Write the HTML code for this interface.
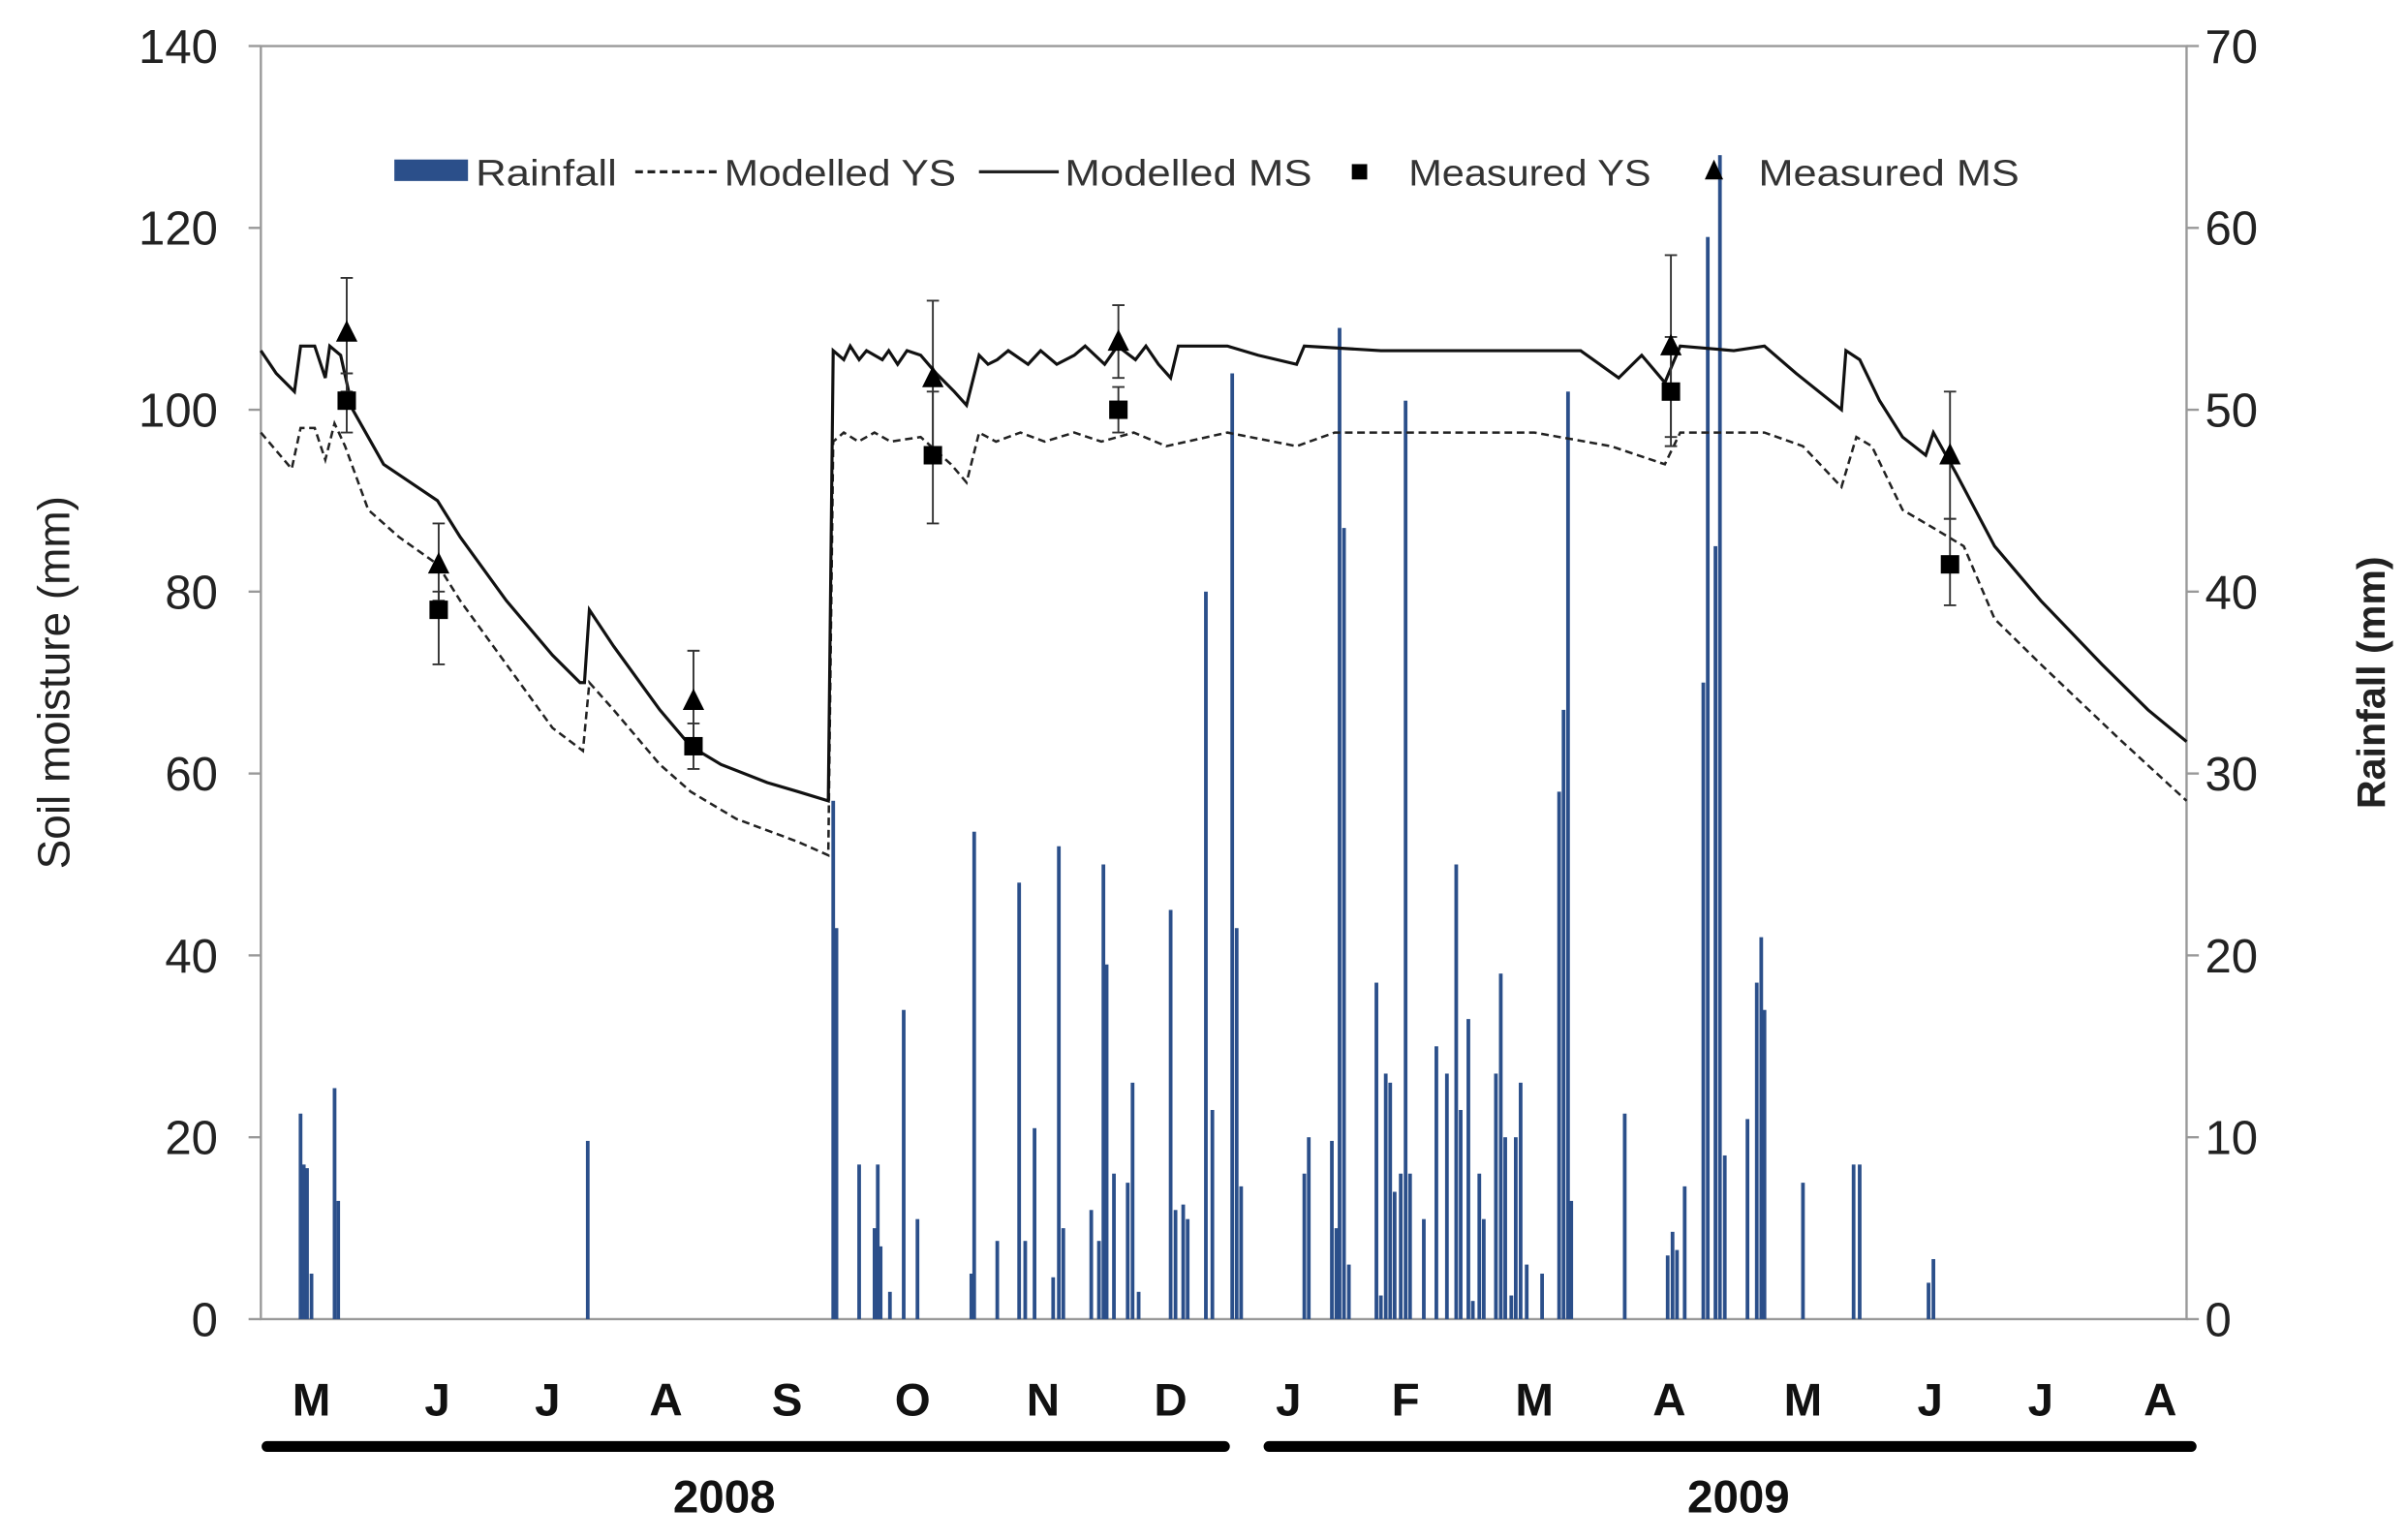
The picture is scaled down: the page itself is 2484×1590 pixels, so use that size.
<!DOCTYPE html>
<html><head><meta charset="utf-8"><style>
html,body{margin:0;padding:0;background:#fff;}
svg{display:block;font-family:"Liberation Sans",sans-serif;}
</style></head><body>
<svg id="chart" width="2484" height="1590" viewBox="0 0 1568 1004" preserveAspectRatio="none" xmlns="http://www.w3.org/2000/svg">
<g id="axes"></g>
<g id="bars"></g>
<g id="lines"></g>
<g id="points"></g>
<g id="legend">
  <rect x="257" y="104" width="48" height="14" fill="#2b4f8a"/>
  <text x="310" y="121" font-size="24" fill="#333" textLength="92" lengthAdjust="spacingAndGlyphs">Rainfall</text>
  <line x1="414" y1="112" x2="468" y2="112" stroke="#222" stroke-width="2" stroke-dasharray="5,3"/>
  <text x="472" y="121" font-size="24" fill="#333" textLength="151" lengthAdjust="spacingAndGlyphs">Modelled YS</text>
  <line x1="638" y1="112" x2="690" y2="112" stroke="#222" stroke-width="2"/>
  <text x="694" y="121" font-size="24" fill="#333" textLength="161" lengthAdjust="spacingAndGlyphs">Modelled MS</text>
  <rect x="881" y="107" width="10" height="10" fill="#000"/>
  <text x="918" y="121" font-size="24" fill="#333" textLength="158" lengthAdjust="spacingAndGlyphs">Measured YS</text>
  <polygon points="1117,104 1123,117 1111,117" fill="#000"/>
  <text x="1146" y="121" font-size="24" fill="#333" textLength="170" lengthAdjust="spacingAndGlyphs">Measured MS</text>
</g>
</svg>
<script>
// data (x = day index from 1 May 2008)
const rainDays=[12.3,13.1,13.9,15.0,20.7,21.6,83.2,143.8,144.6,150.2,154.0,154.8,155.5,157.8,161.2,164.6,177.9,178.6,184.3,189.7,191.2,193.5,198.1,199.5,200.6,207.5,209.4,210.5,211.3,213.1,216.5,217.7,219.2,227.1,228.3,230.2,231.3,235.8,237.4,242.3,243.4,244.5,260.1,261.2,266.9,268.0,268.8,269.9,271.1,277.9,279.0,280.2,281.3,282.4,283.9,285.1,286.2,289.6,292.7,295.3,297.6,298.7,300.6,301.7,303.3,304.4,307.4,308.6,309.7,311.2,312.3,313.5,315.0,318.8,323.0,324.1,325.2,326.0,339.2,349.8,351.0,352.1,354.0,358.6,359.7,361.6,362.7,363.9,369.5,371.8,372.9,373.7,383.2,395.7,397.2,414.2,415.4];
const rainValues=[11.3,8.5,8.3,2.5,12.7,6.5,9.8,28.5,21.5,8.5,5,8.5,4,1.5,17,5.5,2.5,26.8,4.3,24,4.3,10.5,2.3,26,5,6,4.3,25,19.5,8,7.5,13,1.5,22.5,6,6.3,5.5,40,11.5,52,21.5,7.3,8,10,9.8,5,54.5,43.5,3,18.5,1.3,13.5,13,7,8,50.5,8,5.5,15,13.5,25,11.5,16.5,1,8,5.5,13.5,19,10,1.3,10,13,3,2.5,29,33.5,51,6.5,11.3,3.5,4.8,3.8,7.3,35,59.5,42.5,64,9,11,18.5,21,17,7.5,8.5,8.5,2,3.3];
const msDays=[2.5,6.3,10.8,12.3,15.8,18.4,19.5,22.2,25.2,32.8,46.1,51.7,63.1,74.5,81.3,82.4,83.6,89.6,101,108.6,116.1,127.5,135.1,142.6,143.8,146.4,148,150.2,152,155.9,157.5,159.7,162,165.4,169.2,173.7,176.7,179.8,182,184.3,187,191.9,195,199,203.3,206,210.8,214,218.4,221,224.1,227.1,229,241.1,248.7,258.2,260.1,279,316.9,328.3,337.7,343.4,349.1,352.9,366.1,373.7,381.5,392.7,393.8,397.2,402.1,407.8,413.5,415.4,421,430.5,441.9,457,468.4,477.9];
const msValues=[106.5,104,102,107,107,103.5,107,106,100,94,90,86,79,73,70,70,78,74,67,63,61,59,58,57,106.5,105.5,107,105.5,106.5,105.5,106.5,105,106.5,106,104,102,100.5,106,105,105.5,106.5,105,106.5,105,106,107,105,107,105.5,107,105,103.5,107,107,106,105,107,106.5,106.5,106.5,103.5,106,103,107,106.5,107,104,100,106.5,105.5,101,97,95,97.5,93,85,79,72,67,63.5];
const ysDays=[2.5,10.1,12.3,15.8,18.4,20.7,23.3,29,36.6,46.1,51.7,63.1,74.5,82,83.6,89.6,101,108.6,119.9,135.1,142.6,143.8,146.4,150,154,158,165.4,172.9,176.7,179.8,184,190,196,203.3,210,218,226,241.1,258.2,267.6,316.9,335.8,349.1,352.9,373.7,383.2,392.7,396.4,400.2,407.8,415.4,422.9,430.5,441.9,460.8,477.9];
const ysValues=[97.5,93.5,98,98,94.5,98.5,96,89,86,83,79,72,65,62.5,70,67,61,58,55,52.5,51,96.5,97.5,96.5,97.5,96.5,97,94,92,97.5,96.5,97.5,96.5,97.5,96.5,97.5,96,97.5,96,97.5,97.5,96,94,97.5,97.5,96,91.5,97,96,89,87,85,77,72,64,57];
const measDays=[23.7,46.4,109.3,168.4,214.2,350.6,419.5];
const measYS=[101,78,63,95,100,102,83];
const measYSlo=[97.5,72,60.5,87.5,97.5,96,78.5];
const measYShi=[104,80,65.5,102,102.5,108,88];
const measMS=[108.5,83,68,103.5,107.5,107,95];
const measMSlo=[102,79,63,95,103.5,97,88];
const measMShi=[114.5,87.5,73.5,112,111.5,117,102];
const leftTicks=[0,20,40,60,80,100,120,140];
const rightTicks=[0,10,20,30,40,50,60,70];
const monthLabels=["M","J","J","A","S","O","N","D","J","F","M","A","M","J","J","A"];
const monthLabelDays=[15,46.1,73.3,102.5,132.4,163.4,195.6,227.1,256.2,285.1,316.9,350.2,383.2,414.6,441.9,471.4];

const X0=170,X1=1425,Y0=860,Y1=30,D0=2.5,D1=477.9;
const xs=d=>X0+(d-D0)/(D1-D0)*(X1-X0);
const yl=v=>Y0-v/140*(Y0-Y1);
const yr=v=>Y0-v/70*(Y0-Y1);
const NS="http://www.w3.org/2000/svg";
function mk(tag,attrs,parent,txt){const e=document.createElementNS(NS,tag);for(const k in attrs)e.setAttribute(k,attrs[k]);if(txt!==undefined)e.textContent=txt;parent.appendChild(e);return e;}
const axes=document.getElementById('axes');
let e;
e=mk('path',{d:`M${X0},${Y1}H${X1}V${Y0}H${X0}Z`,fill:'none',stroke:'#999','stroke-width':1.5},axes);

leftTicks.forEach(v=>{
  e=mk('line',{x1:X0-8,x2:X0,y1:yl(v),y2:yl(v),stroke:'#999','stroke-width':1.5},axes);
  
  e=mk('text',{x:142,y:yl(v)+11,'font-size':31,'text-anchor':'end',fill:'#222'},axes,String(v));
  
});
rightTicks.forEach(v=>{
  e=mk('line',{x1:X1,x2:X1+8,y1:yr(v),y2:yr(v),stroke:'#999','stroke-width':1.5},axes);
  
  e=mk('text',{x:1437,y:yr(v)+11,'font-size':31,fill:'#222'},axes,String(v));
  
});
monthLabels.forEach((m,i)=>{
  e=mk('text',{x:xs(monthLabelDays[i]),y:923,'font-size':30,'font-weight':'bold','text-anchor':'middle',fill:'#111'},axes,m);
  
});
e=mk('line',{x1:174,x2:798,y1:943,y2:943,stroke:'#000','stroke-width':7,'stroke-linecap':'round'},axes);

e=mk('line',{x1:827,x2:1428,y1:943,y2:943,stroke:'#000','stroke-width':7,'stroke-linecap':'round'},axes);

e=mk('text',{x:472,y:986,'font-size':30,'font-weight':'bold','text-anchor':'middle',fill:'#111'},axes,'2008');

e=mk('text',{x:1133,y:986,'font-size':30,'font-weight':'bold','text-anchor':'middle',fill:'#111'},axes,'2009');

e=mk('text',{x:0,y:0,'font-size':29,'text-anchor':'middle',fill:'#222',transform:'translate(45,445) rotate(-90)'},axes,'Soil moisture (mm)');

e=mk('text',{x:0,y:0,'font-size':26,'font-weight':'bold','text-anchor':'middle',fill:'#222',transform:'translate(1554,445) rotate(-90)'},axes,'Rainfall (mm)');


const bars=document.getElementById('bars');
rainDays.forEach((d,i)=>{
  const y=yr(rainValues[i]);
  e=mk('rect',{x:xs(d)-1.2,y:y,width:2.4,height:Y0-y,fill:'#2b4f8a'},bars);
  
});
const lines=document.getElementById('lines');
const path=(ds,vs)=>ds.map((d,i)=>(i?'L':'M')+xs(d).toFixed(1)+','+yl(vs[i]).toFixed(1)).join('');
e=mk('path',{d:path(ysDays,ysValues),fill:'none',stroke:'#222','stroke-width':1.6,'stroke-dasharray':'5,3'},lines);

e=mk('path',{d:path(msDays,msValues),fill:'none',stroke:'#111','stroke-width':2},lines);

const pts=document.getElementById('points');
measDays.forEach((d,i)=>{
  const x=xs(d);
  [[measYSlo[i],measYShi[i]],[measMSlo[i],measMShi[i]]].forEach(([lo,hi])=>{
    e=mk('path',{d:`M${x},${yl(lo)}V${yl(hi)}M${x-4},${yl(lo)}h8M${x-4},${yl(hi)}h8`,stroke:'#333','stroke-width':1.2,fill:'none'},pts);
    
  });
  e=mk('rect',{x:x-6,y:yl(measYS[i])-6,width:12,height:12,fill:'#000'},pts);
  
  const y=yl(measMS[i]);
  e=mk('polygon',{points:`${x},${y-8} ${x+7},${y+6} ${x-7},${y+6}`,fill:'#000'},pts);
  
});
</script>
</body></html>
